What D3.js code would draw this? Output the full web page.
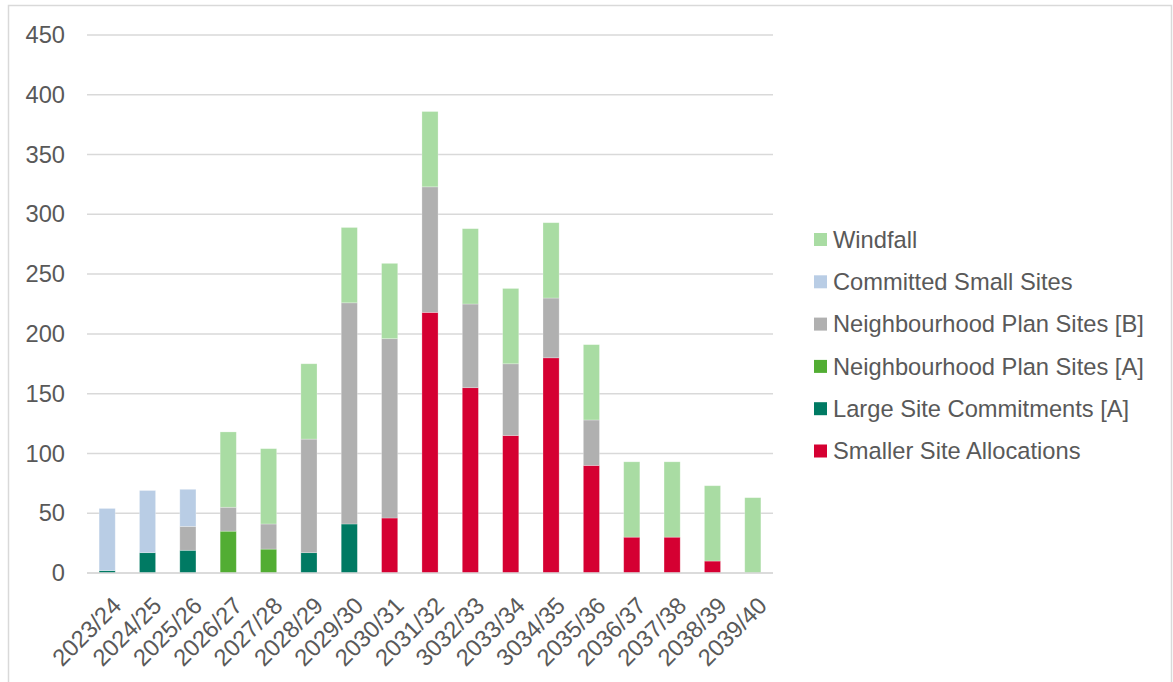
<!DOCTYPE html>
<html>
<head>
<meta charset="utf-8">
<script src="https://cdn.jsdelivr.net/npm/d3@7"></script>
<style>
  body { margin: 0; background: #fff; }
  svg { display: block; font-family: "Liberation Sans", Arial, sans-serif; }
</style>
</head>
<body>
<svg id="chart" width="1173" height="682"></svg>
<script>
// year labels as in the source (typos kept)
const years = ['2023/24', '2024/25', '2025/26', '2026/27', '2027/28', '2028/29', '2029/30', '2030/31',
  '2031/32', '3032/33', '2033/34', '3034/35', '2035/36', '2036/37', '2037/38', '2038/39', '2039/40'];

// stack order bottom -> top
const smallerSiteAllocations = [0, 0, 0, 0, 0, 0, 0, 46, 218, 155, 115, 180, 90, 30, 30, 10, 0];
const largeSiteCommitmentsA  = [2, 17, 19, 0, 0, 17, 41, 0, 0, 0, 0, 0, 0, 0, 0, 0, 0];
const neighbourhoodPlanA     = [0, 0, 0, 35, 20, 0, 0, 0, 0, 0, 0, 0, 0, 0, 0, 0, 0];
const neighbourhoodPlanB     = [0, 0, 20, 20, 21, 95, 185, 150, 105, 70, 60, 50, 38, 0, 0, 0, 0];
const committedSmallSites    = [52, 52, 31, 0, 0, 0, 0, 0, 0, 0, 0, 0, 0, 0, 0, 0, 0];
const windfall               = [0, 0, 0, 63, 63, 63, 63, 63, 63, 63, 63, 63, 63, 63, 63, 63, 63];

const yTicks = [0, 50, 100, 150, 200, 250, 300, 350, 400, 450];

const series = [
  { name: 'Smaller Site Allocations', values: smallerSiteAllocations, color: '#d50032' },
  { name: 'Large Site Commitments [A]', values: largeSiteCommitmentsA, color: '#007a63' },
  { name: 'Neighbourhood Plan Sites [A]', values: neighbourhoodPlanA, color: '#52ad33' },
  { name: 'Neighbourhood Plan Sites [B]', values: neighbourhoodPlanB, color: '#b0b0b0' },
  { name: 'Committed Small Sites', values: committedSmallSites, color: '#b9cde5' },
  { name: 'Windfall', values: windfall, color: '#a9dca3' }
];

const fontSize = '23.7px';
const svg = d3.select('#chart');

// outer frame
svg.append('rect')
  .attr('x', 8.5).attr('y', 5.5)
  .attr('width', 1163).attr('height', 690)
  .attr('fill', 'none')
  .attr('stroke', '#d9d9d9')
  .attr('stroke-width', 1.5);

const x = d3.scaleBand()
  .domain(years)
  .range([87, 773])
  .paddingInner(0.6)
  .paddingOuter(0.3);

const y = d3.scaleLinear()
  .domain([0, 450])
  .range([573, 35]);

// gridlines
svg.append('g')
  .selectAll('line')
  .data(yTicks)
  .join('line')
  .attr('x1', 87).attr('x2', 773)
  .attr('y1', d => y(d)).attr('y2', d => y(d))
  .attr('stroke', '#d9d9d9')
  .attr('stroke-width', 1.5);

// y axis labels
const yAxis = svg.append('g')
  .attr('transform', 'translate(65,0)')
  .call(d3.axisLeft(y).tickValues(yTicks).tickSize(0).tickPadding(0));
yAxis.select('.domain').remove();
yAxis.selectAll('text')
  .attr('fill', '#595959')
  .style('font-size', fontSize)
  .style('font-family', '"Liberation Sans", Arial, sans-serif');

// stacked bars
const table = years.map((yr, i) => {
  const row = { year: yr };
  series.forEach(s => { row[s.name] = s.values[i]; });
  return row;
});

const stack = d3.stack().keys(series.map(s => s.name));
const layers = stack(table);

svg.append('g')
  .selectAll('g')
  .data(layers)
  .join('g')
  .attr('fill', (d, i) => series[i].color)
  .selectAll('rect')
  .data(d => d.filter(p => p[1] - p[0] > 0))
  .join('rect')
  .attr('x', d => x(d.data.year))
  .attr('y', d => y(d[1]))
  .attr('width', x.bandwidth())
  .attr('height', d => y(d[0]) - y(d[1]))
  .attr('stroke', '#ffffff')
  .attr('stroke-opacity', 0.35)
  .attr('stroke-width', 0.75);

// x axis baseline
svg.append('line')
  .attr('x1', 87).attr('x2', 773)
  .attr('y1', y(0)).attr('y2', y(0))
  .attr('stroke', '#d9d9d9')
  .attr('stroke-width', 1.5);

// x axis labels, rotated
svg.append('g')
  .selectAll('text')
  .data(years)
  .join('text')
  .attr('transform', d => `translate(${x(d) + x.bandwidth() / 2 + 3.5},${y(0) + 22}) rotate(-45)`)
  .attr('text-anchor', 'end')
  .attr('dy', '0.72em')
  .attr('fill', '#595959')
  .style('font-size', fontSize)
  .text(d => d);

// legend
const legendItems = series.slice().reverse();
const legend = svg.append('g')
  .attr('transform', 'translate(814,239.5)');

const item = legend.selectAll('g')
  .data(legendItems)
  .join('g')
  .attr('transform', (d, i) => `translate(0,${i * 42.3})`);

item.append('rect')
  .attr('x', 0).attr('y', -6.5)
  .attr('width', 13).attr('height', 13)
  .attr('fill', d => d.color);

item.append('text')
  .attr('x', 19)
  .attr('y', 0)
  .attr('dy', '0.35em')
  .attr('fill', '#595959')
  .style('font-size', fontSize)
  .text(d => d.name);
</script>
</body>
</html>
